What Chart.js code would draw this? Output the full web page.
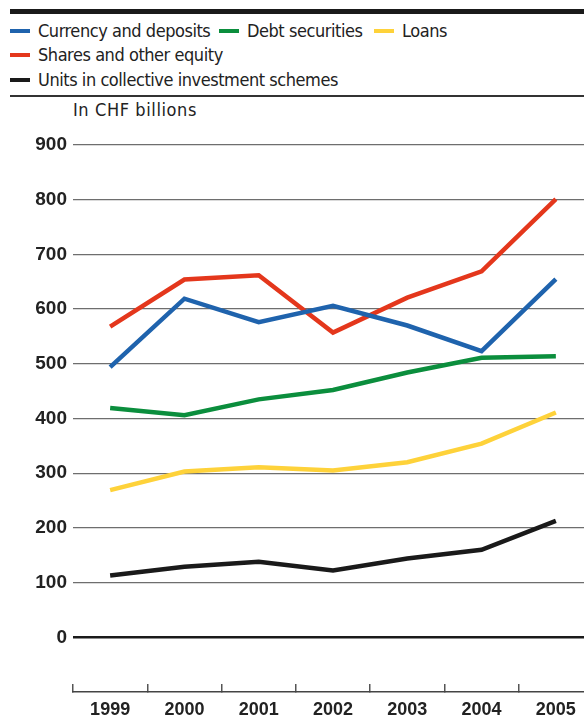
<!DOCTYPE html>
<html>
<head>
<meta charset="utf-8">
<script src="https://cdn.jsdelivr.net/npm/chart.js@4.4.1/dist/chart.umd.min.js"></script>
<style>
  html, body { margin: 0; padding: 0; background: #fff; overflow: hidden; }
  body { width: 584px; height: 717px; position: relative; font-family: "DejaVu Sans Condensed", "Liberation Sans", sans-serif; color: #222; }
  #chart { position: absolute; left: 0; top: 0; }
  .rule-top { position: absolute; left: 10px; right: 0; top: 9px; height: 5px; background: #1a1a1a; }
  .rule-mid { position: absolute; left: 10px; right: 0; top: 95px; height: 1.5px; background: #333; }
  .leg { position: absolute; font-size: 18px; line-height: 20px; letter-spacing: -0.45px; white-space: nowrap; }
  .leg i { position: absolute; left: -28px; top: 8px; width: 20px; height: 4px; }
  .unit { position: absolute; left: 73px; top: 100px; font-size: 18px; line-height: 20px; letter-spacing: 0.6px; }
</style>
</head>
<body>
<div class="rule-top"></div>
<div id="legend"></div>
<div class="rule-mid"></div>
<div class="unit">In CHF billions</div>
<canvas id="chart" width="593" height="717"></canvas>
<script>
// years on the x axis
const years = ['1999', '2000', '2001', '2002', '2003', '2004', '2005'];

// CHF billions
const currencyDeposits = [494, 619, 576, 606, 570, 523, 655];
const debtSecurities = [419, 406, 435, 452, 484, 511, 514];
const loans = [269, 303, 311, 305, 320, 354, 411];
const sharesEquity = [568, 654, 662, 557, 621, 669, 801];
const collectiveUnits = [113, 129, 138, 122, 144, 160, 213];

const yTicks = [-100, 0, 100, 200, 300, 400, 500, 600, 700, 800, 900];

const series = [
    { label: 'Currency and deposits', data: currencyDeposits, color: '#1f63ad', x: 38, y: 21 },
    { label: 'Debt securities', data: debtSecurities, color: '#0b8e3d', x: 247, y: 21 },
    { label: 'Loans', data: loans, color: '#fed23a', x: 402, y: 21 },
    { label: 'Shares and other equity', data: sharesEquity, color: '#e4371c', x: 38, y: 45 },
    { label: 'Units in collective investment schemes', data: collectiveUnits, color: '#1a1a1a', x: 38, y: 70 }
];

// html legend
const legend = document.getElementById('legend');
series.forEach(s => {
    legend.innerHTML += `<div class="leg" style="left:${s.x}px;top:${s.y}px"><i style="background:${s.color}"></i>${s.label}</div>`;
});

const xFont = { family: '"Liberation Sans", Arial, sans-serif', size: 18, weight: 'bold' };
const yFont = { family: '"Liberation Sans", Arial, sans-serif', size: 19, weight: 'bold' };

new Chart(document.getElementById('chart'), {
    type: 'line',
    data: {
        labels: years,
        datasets: series.map(s => ({
            label: s.label,
            data: s.data,
            borderColor: s.color,
            backgroundColor: s.color,
            borderWidth: 4.5,
            pointRadius: 0,
            tension: 0,
            borderJoinStyle: 'miter',
            fill: false
        }))
    },
    options: {
        responsive: false,
        animation: false,
        layout: { padding: { top: 145, right: 0, left: 0, bottom: 0 } },
        plugins: { legend: { display: false }, tooltip: { enabled: false } },
        scales: {
            x: {
                offset: true,
                grid: {
                    offset: true,
                    drawOnChartArea: false,
                    drawTicks: true,
                    tickLength: -8,
                    color: '#555',
                    lineWidth: 1.5
                },
                border: { display: true, color: '#444', width: 1.5 },
                ticks: { color: '#222', font: xFont, padding: 15, maxRotation: 0 },
                afterFit: scale => { scale.height = 25; }
            },
            y: {
                min: -100,
                max: 900,
                afterBuildTicks: scale => { scale.ticks = yTicks.map(v => ({ value: v })); },
                grid: {
                    drawTicks: false,
                    color: ctx => ctx.tick.value === 0 ? '#1a1a1a' : (ctx.tick.value < 0 ? 'rgba(0,0,0,0)' : '#6e6e6e'),
                    lineWidth: ctx => ctx.tick.value === 0 ? 2.5 : 1.3
                },
                border: { display: false },
                ticks: {
                    color: '#222',
                    font: yFont,
                    padding: 6,
                    callback: v => v < 0 ? '' : v
                },
                afterFit: scale => { scale.width = 73; }
            }
        }
    }
});
</script>
</body>
</html>
